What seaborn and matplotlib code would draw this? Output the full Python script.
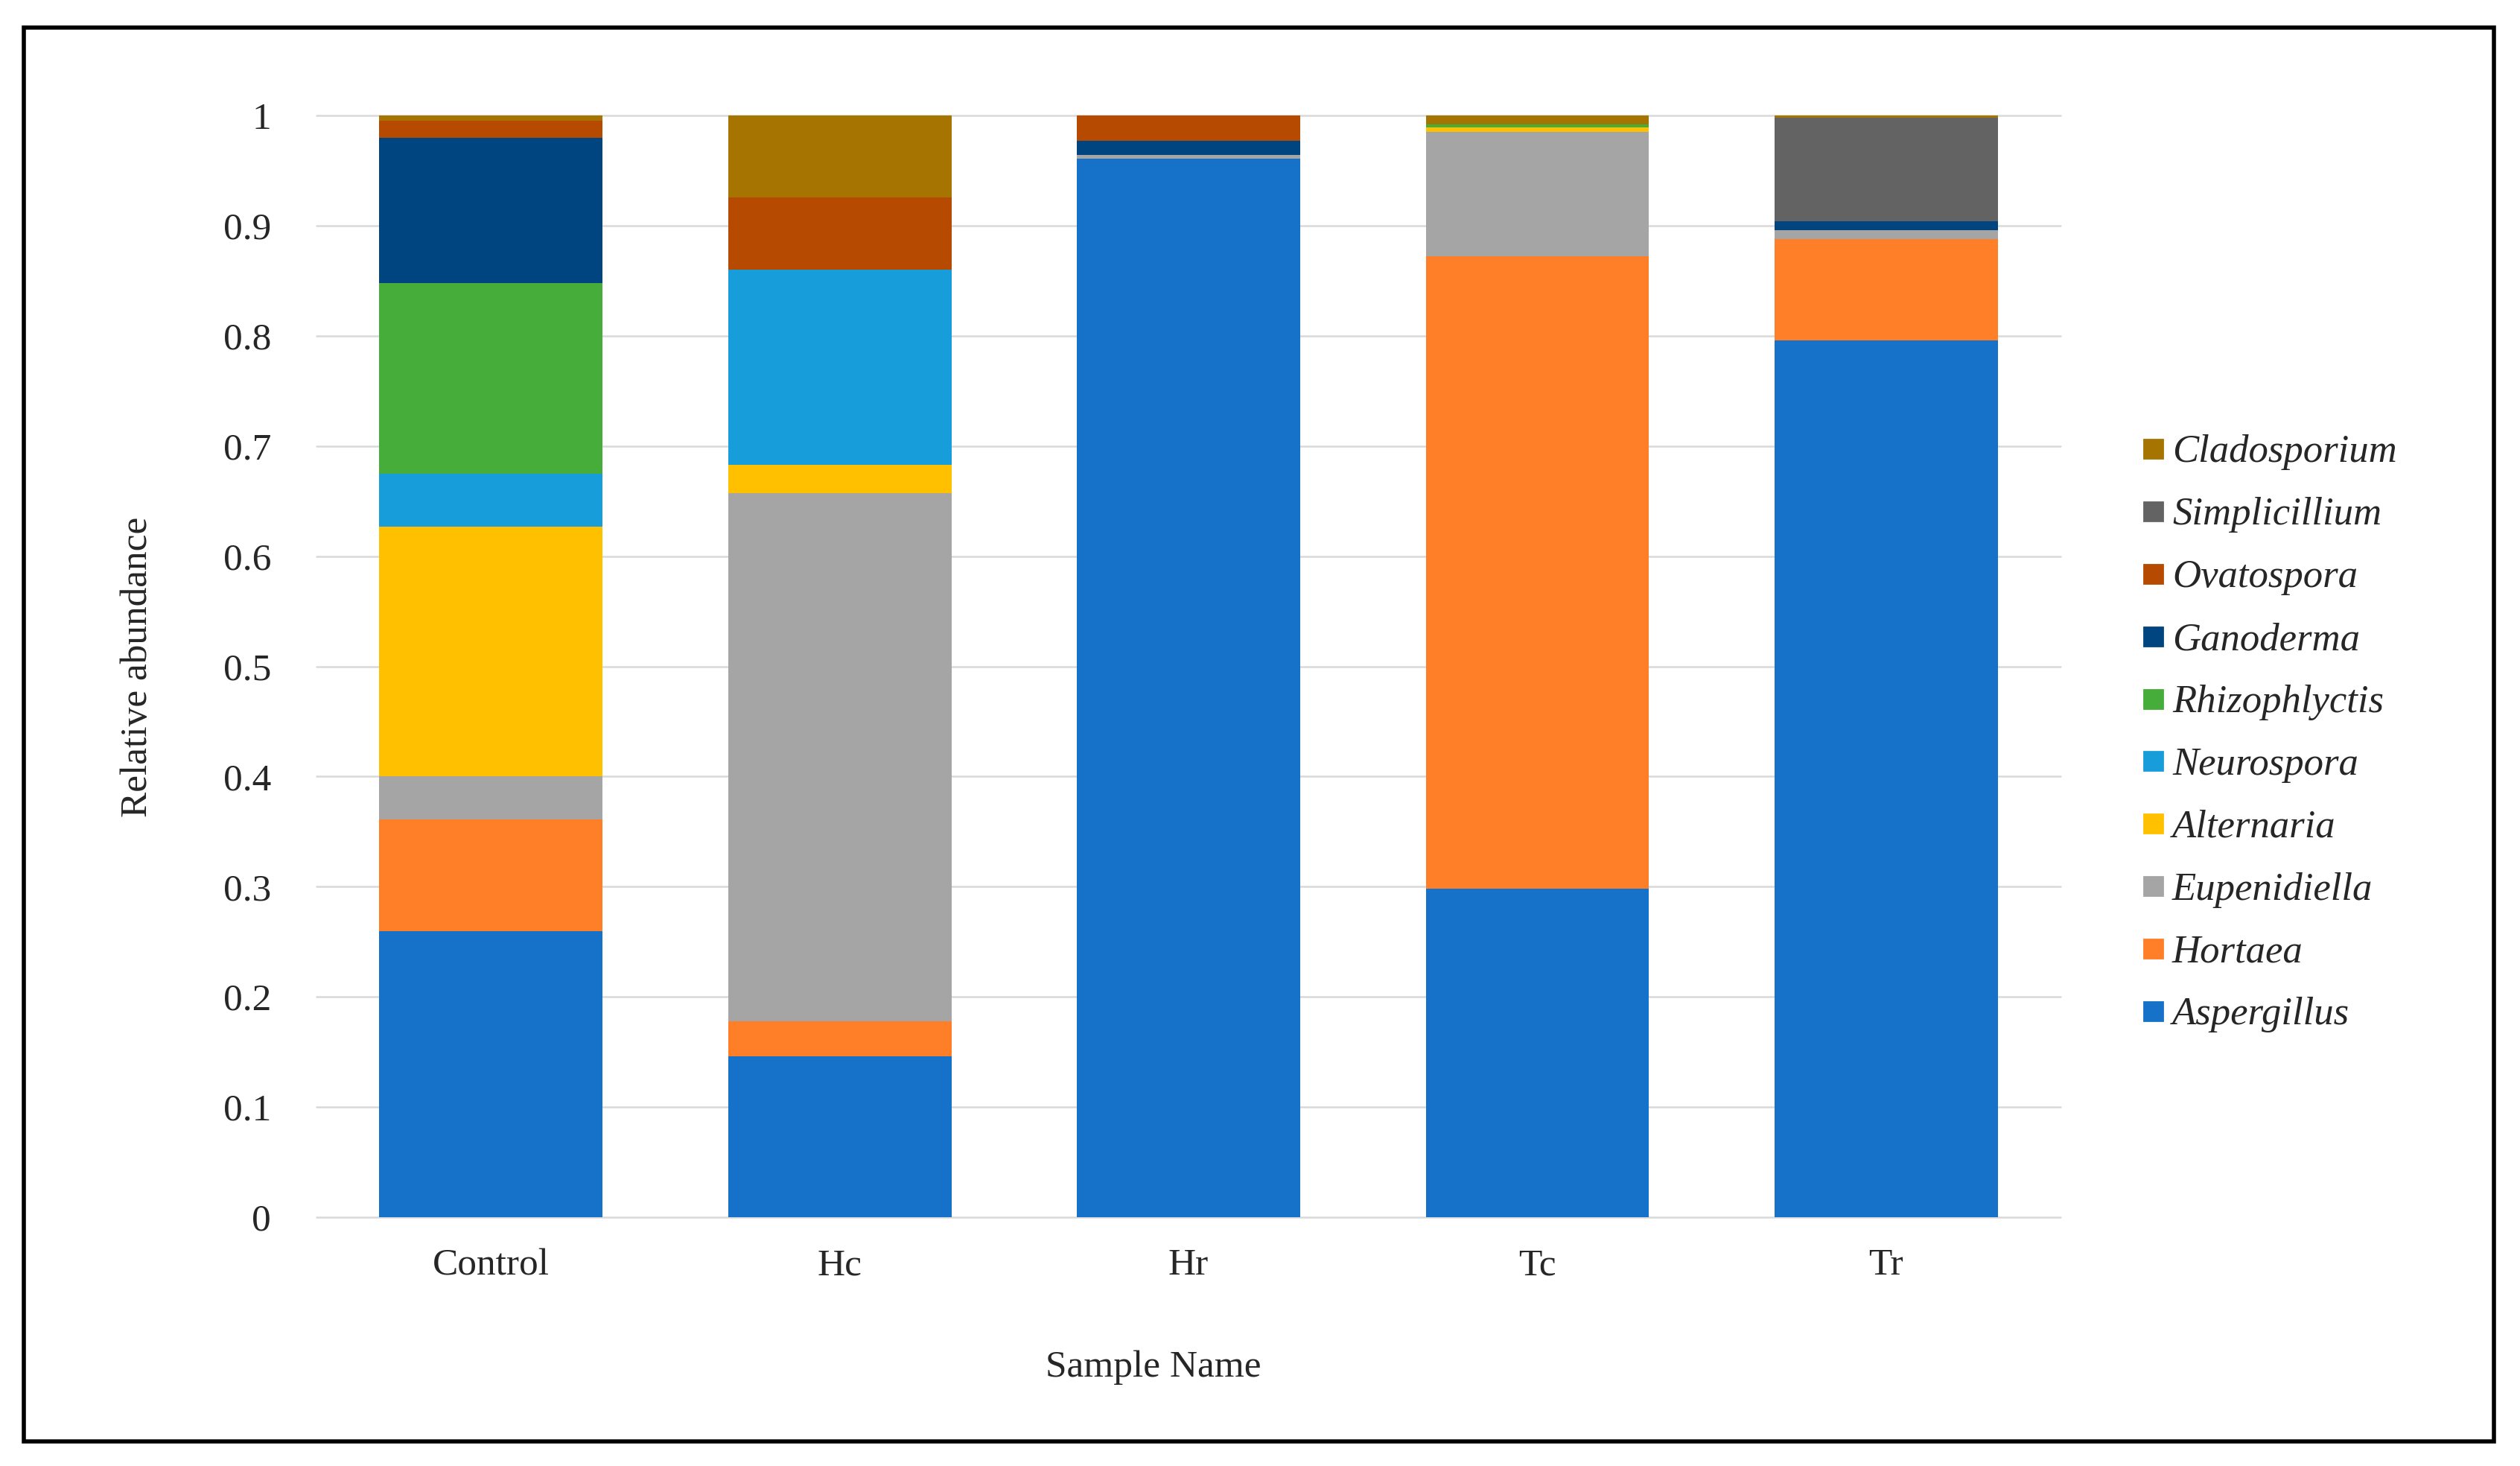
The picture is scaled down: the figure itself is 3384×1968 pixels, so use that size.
import matplotlib
matplotlib.use("Agg")
import matplotlib.pyplot as plt
from matplotlib.lines import Line2D
from matplotlib.patches import Rectangle
from matplotlib.font_manager import FontProperties
import seaborn as sns
import pandas as pd
import numpy as np

samples = ["Control", "Hc", "Hr", "Tc", "Tr"]
genera = ["Aspergillus", "Hortaea", "Eupenidiella", "Alternaria", "Neurospora",
          "Rhizophlyctis", "Ganoderma", "Ovatospora", "Simplicillium", "Cladosporium"]

aspergillus   = [0.260, 0.146, 0.961, 0.298, 0.796]
hortaea       = [0.101, 0.032, 0.000, 0.574, 0.092]
eupenidiella  = [0.039, 0.479, 0.003, 0.113, 0.008]
alternaria    = [0.227, 0.026, 0.000, 0.004, 0.000]
neurospora    = [0.048, 0.177, 0.000, 0.000, 0.000]
rhizophlyctis = [0.173, 0.000, 0.000, 0.003, 0.000]
ganoderma     = [0.132, 0.000, 0.013, 0.000, 0.008]
ovatospora    = [0.015, 0.066, 0.023, 0.000, 0.000]
simplicillium = [0.000, 0.000, 0.000, 0.000, 0.094]
cladosporium  = [0.005, 0.074, 0.000, 0.008, 0.002]

colors = ["#1672C8", "#FE7F27", "#A5A5A5", "#FFC000", "#179DDA",
          "#46AD3A", "#004480", "#B64A00", "#636363", "#A67400"]

series = [aspergillus, hortaea, eupenidiella, alternaria, neurospora,
          rhizophlyctis, ganoderma, ovatospora, simplicillium, cladosporium]

df = pd.DataFrame(np.array(series).T, columns=genera)
df.insert(0, "Sample", samples)
cum = df[genera].cumsum(axis=1)
cum["Sample"] = samples

sns.set_theme(style="white")
plt.rcParams["font.family"] = ["Liberation Serif", "DejaVu Serif"]

fig = plt.figure(figsize=(16.92, 9.84), dpi=200)
ax = fig.add_axes([0.1256, 0.1697, 0.6921, 0.7515])

ax.set_axisbelow(True)
for y in np.arange(0, 1.01, 0.1):
    ax.axhline(y, color="#D9D9D9", lw=0.9, zorder=0, clip_on=False)

# cumulative overlay stacking: draw top layers first
for g, c in reversed(list(zip(genera, colors))):
    sns.barplot(data=cum, x="Sample", y=g, color=c, width=0.64, ax=ax,
                saturation=1, order=samples, linewidth=0, zorder=2)

ax.set_xlim(-0.5, 4.5)
ax.set_ylim(0, 1)
ax.set_yticks(np.arange(0, 1.01, 0.1))
ax.set_yticklabels(["0"] + [f"{v:.1f}" for v in np.arange(0.1, 0.95, 0.1)] + ["1"])
ax.tick_params(axis="y", length=0, pad=22, labelsize=18.5)
ax.tick_params(axis="x", length=0, pad=15, labelsize=18.5)
for s in ax.spines.values():
    s.set_visible(False)
ax.set_xlabel("")
ax.set_ylabel("")

fig.text(0.0545, 0.545, "Relative abundance", rotation=90, ha="center", va="center", fontsize=18.5)
fig.text(0.4577, 0.067, "Sample Name", ha="center", va="center", fontsize=18.5)

handles = [Line2D([0], [0], marker="s", linestyle="none", markersize=9,
                  markerfacecolor=c, markeredgecolor=c) for c in colors]
leg_font = FontProperties(family=["Liberation Serif"], style="italic", size=19)
leg = fig.legend(handles[::-1], genera[::-1], loc="center left",
                 bbox_to_anchor=(0.8495, 0.4995), frameon=False,
                 prop=leg_font, borderaxespad=0,
                 handletextpad=0.2, labelspacing=0.68, borderpad=0, handlelength=0.6)

fig.patches.append(Rectangle((0.0095, 0.017), 0.9802, 0.9642, transform=fig.transFigure,
                             fill=False, edgecolor="black", linewidth=2.0))

fig.savefig("out.png", dpi=200)
